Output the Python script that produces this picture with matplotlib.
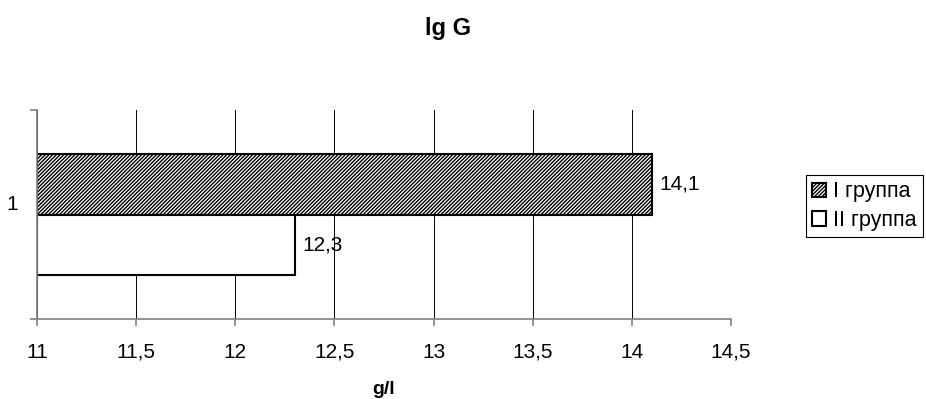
#!/usr/bin/env python3

from matplotlib import pyplot as plt
import matplotlib
import numpy as np

matplotlib.rcParams["font.family"] = ["Liberation Sans", "DejaVu Sans"]
matplotlib.rcParams["hatch.linewidth"] = 1.0

categories = ["1"]
series_names = ["I группа", "II группа"]
series_values = [14.1, 12.3]
value_labels = ["14,1", "12,3"]
x_ticks = [11, 11.5, 12, 12.5, 13, 13.5, 14, 14.5]
x_tick_labels = ["11", "11,5", "12", "12,5", "13", "13,5", "14", "14,5"]
x_min = 11

W, H = 926, 399


def main():
    fig = plt.figure(figsize=(W / 100, H / 100), dpi=100)
    ax = fig.add_axes([37 / W, 1 - 319 / H, (731 - 37) / W, 209 / H])

    height = 0.29
    styles = [dict(hatch="/////////", facecolor="white"),
              dict(hatch=None, facecolor="white")]
    for i, (name, val, lab) in enumerate(zip(series_names, series_values,
                                             value_labels)):
        y = 1 + height / 2 - i * height
        ax.barh(y, val - x_min, left=x_min, height=height,
                edgecolor="black", linewidth=1.5, label=name, **styles[i])
        ax.text(val + 0.04, y, lab, va="center", ha="left",
                fontsize=15, zorder=0.4)

    ax.set_xlim(11, 14.5)
    ax.set_ylim(0.5, 1.5)
    ax.set_xticks(x_ticks)
    ax.set_xticklabels(x_tick_labels, fontsize=15)
    ax.set_yticks([0.5, 1.5])
    ax.set_yticklabels([])
    ax.tick_params(axis="both", length=5, color="#808080", width=1.2,
                   pad=12)
    ax.xaxis.grid(True, color="black", linewidth=0.7)
    ax.set_axisbelow(True)
    for s in ["top", "right"]:
        ax.spines[s].set_visible(False)
    for s in ["left", "bottom"]:
        ax.spines[s].set_color("#808080")
        ax.spines[s].set_linewidth(1.2)

    fig.text(12 / W, 1 - 205 / H, categories[0], ha="center", va="center",
             fontsize=15)
    fig.text(384 / W, 1 - 398 / H, "g/l", ha="center", va="bottom",
             fontsize=14, fontweight="bold")
    fig.text(448 / W, 1 - 35 / H, "lg G", ha="center", va="baseline",
             fontsize=17, fontweight="bold")

    leg = fig.legend(loc="upper left", bbox_to_anchor=(806 / W, 1 - 175 / H),
                     fontsize=15.5, handlelength=0.65, handleheight=0.65,
                     handletextpad=0.3, borderpad=0.3, labelspacing=0.35,
                     borderaxespad=0, fancybox=False, edgecolor="black",
                     framealpha=1)
    leg.get_frame().set_linewidth(0.8)

    fig.savefig("out.png", dpi=100)


if __name__ == "__main__":
    main()
